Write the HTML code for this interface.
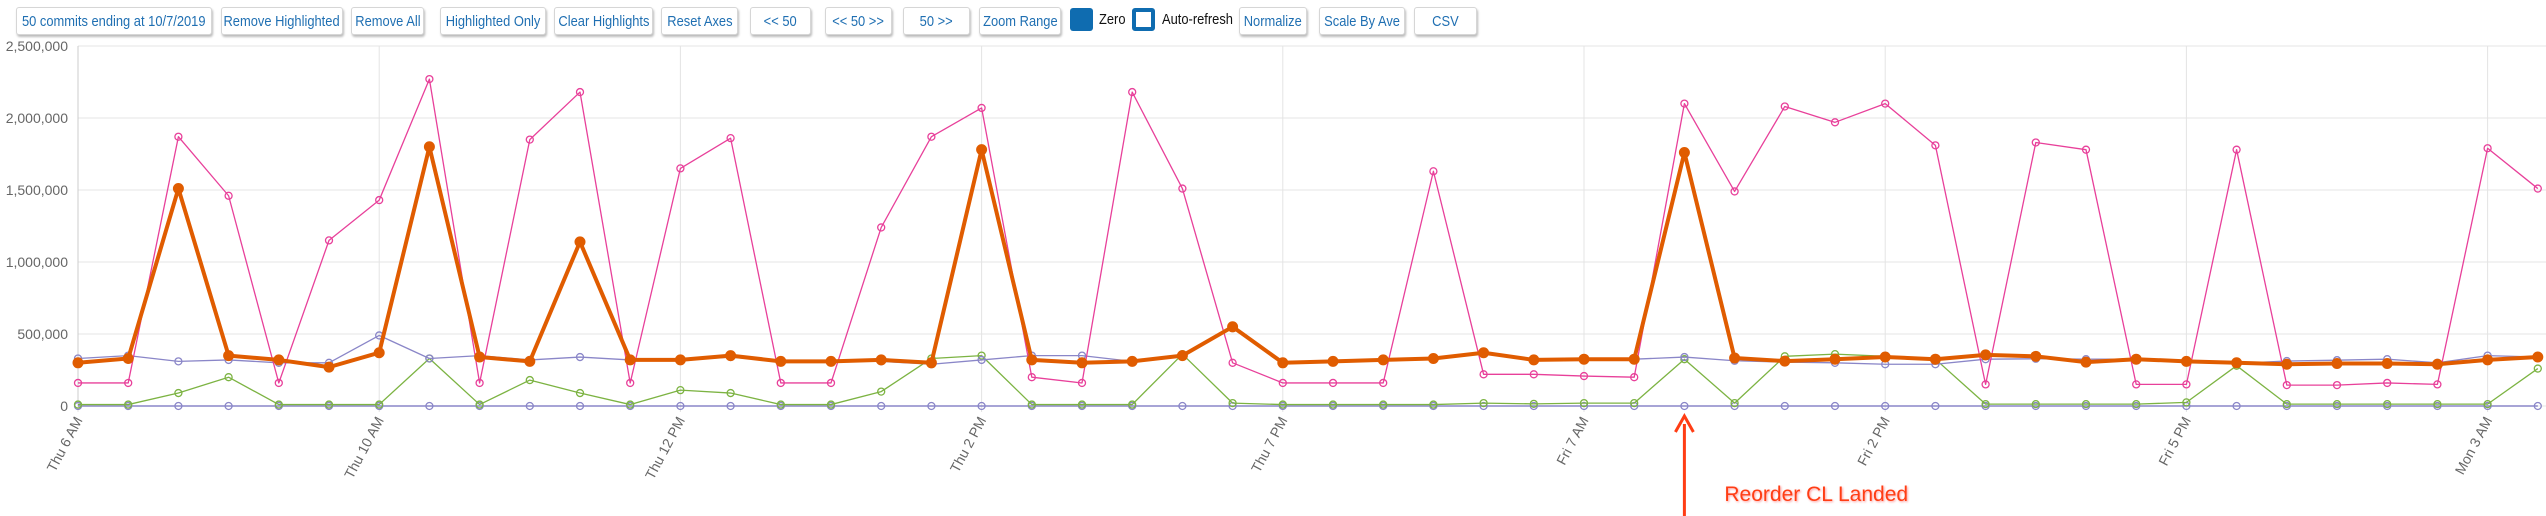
<!DOCTYPE html>
<html><head><meta charset="utf-8">
<style>
body{margin:0;width:2546px;height:516px;background:#fff;overflow:hidden;font-family:"Liberation Sans",sans-serif;position:relative}
.btn{position:absolute;top:7px;height:26px;border:1px solid #d6d6d6;border-radius:3px;box-shadow:1px 2px 2px #bbb;background:#fff;color:#1f6fb2;font-size:15px;display:flex;align-items:center;justify-content:center;white-space:nowrap;overflow:visible}
.btn span{display:inline-block;transform:scaleX(0.86)}
.cb{position:absolute;top:8px;width:23px;height:23px;border-radius:3px;box-sizing:border-box}
.lbl{position:absolute;top:11px;font-size:15px;color:#111;transform:scaleX(0.86);transform-origin:left center;white-space:nowrap}
</style></head><body>
<div class="btn" style="left:16px;width:194px"><span>50 commits ending at 10/7/2019</span></div>
<div class="btn" style="left:221px;width:120px"><span>Remove Highlighted</span></div>
<div class="btn" style="left:351px;width:71px"><span>Remove All</span></div>
<div class="btn" style="left:440px;width:104px"><span>Highlighted Only</span></div>
<div class="btn" style="left:554px;width:97px"><span>Clear Highlights</span></div>
<div class="btn" style="left:661px;width:75px"><span>Reset Axes</span></div>
<div class="btn" style="left:750px;width:59px"><span>&lt;&lt; 50</span></div>
<div class="btn" style="left:825px;width:65px"><span>&lt;&lt; 50 &gt;&gt;</span></div>
<div class="btn" style="left:903px;width:65px"><span>50 &gt;&gt;</span></div>
<div class="btn" style="left:979px;width:80px"><span>Zoom Range</span></div>
<div class="cb" style="left:1070px;background:#0f6cb0"></div>
<div class="lbl" style="left:1099px">Zero</div>
<div class="cb" style="left:1132px;border:4px solid #0f6cb0;background:#fff"></div>
<div class="lbl" style="left:1162px">Auto-refresh</div>
<div class="btn" style="left:1239px;width:66px"><span>Normalize</span></div>
<div class="btn" style="left:1319px;width:84px"><span>Scale By Ave</span></div>
<div class="btn" style="left:1414px;width:61px"><span>CSV</span></div>
<svg id="chart" width="2546" height="516" style="position:absolute;left:0;top:0"></svg>
<script>
const yTicks=[0,500000,1000000,1500000,2000000,2500000];
const yTickLabels=["0","500,000","1,000,000","1,500,000","2,000,000","2,500,000"];
const xLabelIdx=[0,6,12,18,24,30,36,42,48];
const xLabels=["Thu 6 AM","Thu 10 AM","Thu 12 PM","Thu 2 PM","Thu 7 PM","Fri 7 AM","Fri 2 PM","Fri 5 PM","Mon 3 AM"];
const pinkVals=[160000,160000,1870000,1460000,160000,1150000,1430000,2270000,160000,1850000,2180000,160000,1650000,1860000,160000,160000,1240000,1870000,2070000,200000,160000,2180000,1510000,300000,160000,160000,160000,1630000,220000,220000,208000,200000,2100000,1490000,2080000,1970000,2100000,1810000,150000,1830000,1780000,150000,150000,1780000,145000,145000,160000,150000,1790000,1510000];
const purpleVals=[330000,350000,310000,320000,300000,300000,490000,330000,350000,320000,340000,320000,320000,340000,310000,310000,310000,290000,320000,350000,350000,310000,350000,540000,300000,310000,320000,330000,370000,320000,325000,325000,340000,314000,305000,300000,290000,290000,325000,328000,325000,325000,305000,296000,312000,318000,325000,300000,350000,340000];
const greenVals=[10000,10000,90000,200000,10000,10000,10000,330000,10000,180000,90000,10000,110000,90000,10000,10000,100000,330000,350000,10000,10000,10000,360000,20000,10000,10000,10000,10000,20000,15000,20000,20000,325000,20000,345000,360000,345000,325000,13000,13000,13000,13000,25000,280000,13000,13000,13000,13000,13000,260000];
const zeroVals=new Array(50).fill(0);
const orangeVals=[300000,330000,1510000,350000,320000,270000,370000,1800000,340000,310000,1140000,320000,320000,350000,310000,310000,320000,300000,1780000,320000,300000,310000,350000,550000,300000,310000,320000,330000,370000,320000,325000,325000,1760000,333000,312000,325000,340000,325000,355000,345000,305000,325000,310000,300000,290000,295000,295000,290000,320000,340000];
const annotIdx=32;
const NS="http://www.w3.org/2000/svg";
const svg=document.getElementById('chart');
const X0=78,DX=50.2,Y0=406,YTOP=46,YMAX=2500000;
const xs=i=>X0+i*DX;
const ys=v=>Y0-v/YMAX*(Y0-YTOP);
function el(t,a){const e=document.createElementNS(NS,t);for(const k in a)e.setAttribute(k,a[k]);svg.appendChild(e);return e;}
yTicks.forEach((v,i)=>{
  const g=el('line',{x1:X0,x2:2546,y1:ys(v),y2:ys(v),stroke:'#e4e4e4','stroke-width':1});
  
  
  const t=el('text',{x:X0-10,y:ys(v)+5,'text-anchor':'end','font-size':14,fill:'#666','font-family':'Liberation Sans, sans-serif'});
  t.textContent=yTickLabels[i];
  
  
});
xLabelIdx.forEach((ix,i)=>{
  const g=el('line',{x1:xs(ix),x2:xs(ix),y1:YTOP,y2:Y0+6,stroke:'#e4e4e4','stroke-width':1});
  
  
  const t=el('text',{x:0,y:0,'text-anchor':'end','font-size':14,fill:'#666','font-family':'Liberation Sans, sans-serif',transform:`translate(${xs(ix)+5},${Y0+14}) rotate(-62)`});
  t.textContent=xLabels[i];
  
  
});
const ax=el('line',{x1:X0,x2:X0,y1:YTOP,y2:Y0,stroke:'#ccc'});


function series(vals,color,w,r,filled,name){
  const p=el('polyline',{points:vals.map((v,i)=>xs(i)+','+ys(v)).join(' '),fill:'none',stroke:color,'stroke-width':w,'stroke-linejoin':'round'});
  
  
  vals.forEach((v,i)=>{
    const c=el('circle',{cx:xs(i),cy:ys(v),r:r,fill:filled?color:'none',stroke:color,'stroke-width':filled?1:1.3});
    
    
  });
}
series(zeroVals,'#8a86c8',1.5,3.5,false,'zero-series');
series(greenVals,'#7cb342',1.3,3.5,false,'green-series');
series(purpleVals,'#8a86c8',1.3,3.5,false,'purple-series');
series(pinkVals,'#e8409a',1.3,3.5,false,'pink-series');
series(orangeVals,'#e05c00',4,5,true,'orange-series');
const axx=xs(annotIdx);
const a=el('line',{x1:axx,x2:axx,y1:424,y2:516,stroke:'#ff3d14','stroke-width':3});


const ah=el('path',{d:`M${axx-9},432 L${axx},416 L${axx+9},432`,fill:'none',stroke:'#ff3d14','stroke-width':3});


const at=el('text',{x:axx+40,y:501,'font-size':21,fill:'#ff3d14','font-family':'Liberation Sans, sans-serif',style:'text-shadow:1px 1px 2px #f99'});
at.textContent='Reorder CL Landed';


</script>
</body></html>
